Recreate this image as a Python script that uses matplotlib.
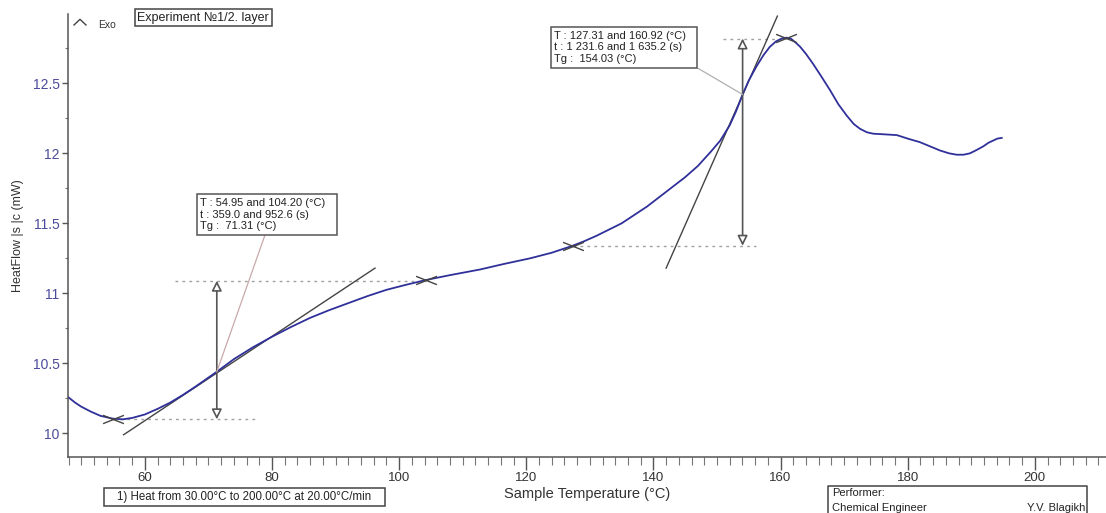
import numpy as np
import matplotlib
matplotlib.use("Agg")
import matplotlib.pyplot as plt
from matplotlib.path import Path
from matplotlib.patches import Rectangle
from matplotlib.lines import Line2D
from matplotlib.ticker import MultipleLocator

plt.rcParams['font.family'] = ['Liberation Sans', 'DejaVu Sans']

# heat flow curve
temp = [47.9, 49, 50, 51.5, 53, 54.95, 56.5, 58, 60, 62, 64, 66, 68, 71.31, 74, 77,
        80, 83, 86, 89, 92, 95, 98, 101, 104.2, 108, 112.7, 116.5, 120.6, 124,
        127.3, 129, 131, 133, 135, 137, 139, 141, 143, 145, 147, 149, 150.5, 152,
        153, 154.03, 155, 156.2, 157.3, 158.3, 159.3, 160.2, 160.92, 161.6, 162.4,
        163.1, 164, 165.1, 166.4, 167.8, 169.1, 170.4, 171.5, 172.5, 173.6, 174.6,
        176.5, 178.3, 180, 181.9, 183.5, 185.1, 186.5, 187.7, 188.8, 189.8, 190.9,
        191.9, 192.7, 193.4, 194.1, 194.8]
heatflow = [10.26, 10.22, 10.19, 10.155, 10.125, 10.105, 10.10, 10.11, 10.135, 10.175,
            10.22, 10.275, 10.335, 10.44, 10.53, 10.615, 10.69, 10.76, 10.825, 10.88,
            10.93, 10.98, 11.025, 11.06, 11.095, 11.13, 11.17, 11.21, 11.25, 11.29,
            11.34, 11.37, 11.41, 11.455, 11.50, 11.56, 11.62, 11.69, 11.76, 11.83,
            11.91, 12.01, 12.09, 12.20, 12.30, 12.42, 12.52, 12.62, 12.70, 12.76,
            12.80, 12.82, 12.826, 12.82, 12.79, 12.76, 12.71, 12.64, 12.55, 12.45,
            12.35, 12.27, 12.21, 12.175, 12.15, 12.14, 12.135, 12.13, 12.105, 12.08,
            12.05, 12.02, 12.00, 11.99, 11.99, 12.00, 12.025, 12.05, 12.075, 12.09,
            12.105, 12.11]

# glass transition analysis (onset / end markers, Tg)
mark_T = [54.95, 104.20, 127.31, 160.92]
mark_v = [10.105, 11.095, 11.34, 12.826]
tg_T = [71.31, 154.03]
tg_v = [10.44, 12.42]
step_lo = [10.10, 11.34]
step_hi = [11.09, 12.82]
tan1_T = [56.65, 96.2]
tan1_v = [9.99, 11.18]
tan2_T = [142.0, 159.5]
tan2_v = [11.18, 12.98]
dot_T = [(55.0, 77.6), (64.8, 104.2), (127.3, 156.2), (151.0, 160.92)]
dot_v = [10.10, 11.09, 11.34, 12.82]

box1_lines = ["T : 54.95 and 104.20 (°C)", "t : 359.0 and 952.6 (s)", "Tg :  71.31 (°C)"]
box2_lines = ["T : 127.31 and 160.92 (°C)", "t : 1 231.6 and 1 635.2 (s)", "Tg :  154.03 (°C)"]

W, H = 1106, 513
def fx(px):
    return px / W
def fy(py):
    return 1 - py / H

fig = plt.figure(figsize=(W / 100, H / 100), dpi=100)
ax = fig.add_axes([fx(68), fy(457), 1 - fx(68), fy(14) - fy(457)])

ax.set_xlim(47.9, 211.2)
ax.set_ylim(9.831, 12.995)

for s in ['top', 'right']:
    ax.spines[s].set_visible(False)
for s in ['left', 'bottom']:
    ax.spines[s].set_color('#555555')
    ax.spines[s].set_linewidth(1.1)

ax.xaxis.set_major_locator(MultipleLocator(20))
ax.xaxis.set_minor_locator(MultipleLocator(2))
ax.yaxis.set_major_locator(MultipleLocator(0.5))
ax.yaxis.set_minor_locator(MultipleLocator(0.25))
ax.yaxis.set_major_formatter(plt.FuncFormatter(lambda v, p: f"{v:g}"))
ax.tick_params(axis='x', which='major', length=9.4, width=1, color='#555555',
               labelsize=9.5, labelcolor='#333333', pad=1.5)
ax.tick_params(axis='x', which='minor', length=5.8, width=0.8, color='#777777')
ax.tick_params(axis='y', which='major', length=4, width=1, color='#555555',
               labelsize=10, labelcolor='#4b4b9b', pad=2)
ax.tick_params(axis='y', which='minor', length=2.5, width=0.8, color='#777777')

ax.set_xlabel('Sample Temperature (°C)', fontsize=10.5, color='#333333', labelpad=2)
ax.set_ylabel('HeatFlow |s |c (mW)', fontsize=9, color='#333333', labelpad=6)

# dotted step levels
for (t0, t1), v in zip(dot_T, dot_v):
    ax.plot([t0, t1], [v, v], color='#a0a0a0', lw=1, ls=(0, (2, 3)))

# tangents
ax.plot(tan1_T, tan1_v, color='#444444', lw=1)
ax.plot(tan2_T, tan2_v, color='#444444', lw=1)

# curve
ax.plot(temp, heatflow, color='#30309a', lw=1.3)

# step height arrows
for t, lo, hi in zip(tg_T, step_lo, step_hi):
    ax.annotate('', xy=(t, hi), xytext=(t, lo),
                arrowprops=dict(arrowstyle='<|-|>,head_length=0.6,head_width=0.3',
                                fc='white', ec='#555555', lw=1.2,
                                mutation_scale=10, shrinkA=0, shrinkB=0))

# crossed markers
cross = Path([(-1, -0.4), (1, 0.4), (-1, 0.4), (1, -0.4)],
             [Path.MOVETO, Path.LINETO, Path.MOVETO, Path.LINETO])
ax.plot(mark_T, mark_v, ls='none', marker=cross, markersize=15, mew=1,
        mec='#444444', mfc='none')

# result boxes with leader lines
def result_box(x0, y0, x1, y1, lines, lead_from, tg, lead_color):
    fig.add_artist(Rectangle((fx(x0), fy(y1)), fx(x1) - fx(x0), fy(y0) - fy(y1),
                             transform=fig.transFigure, fill=True, fc='white',
                             ec='#555555', lw=1.1, zorder=5))
    fig.text(fx(x0 + 3), fy((y0 + y1) / 2), "\n".join(lines), fontsize=8,
             color='#222222', va='center', ha='left', linespacing=1.15, zorder=6)
    ax.annotate('', xy=tg, xycoords='data',
                xytext=(fx(lead_from[0]), fy(lead_from[1])), textcoords='figure fraction',
                arrowprops=dict(arrowstyle='-', color=lead_color, lw=0.9,
                                shrinkA=0, shrinkB=0))

result_box(196.7, 194, 336.7, 235, box1_lines, (265, 235), (tg_T[0], tg_v[0]), '#c9a9a9')
result_box(551, 26.7, 696.7, 68.3, box2_lines, (698, 68.3), (tg_T[1], tg_v[1]), '#b0b0b0')

# header: Exo and experiment name
fig.add_artist(Line2D([fx(74), fx(80), fx(86)], [fy(25), fy(19.3), fy(25)],
                      transform=fig.transFigure, color='#444444', lw=1))
fig.text(fx(98), fy(25), 'Exo', fontsize=7.5, color='#333333', va='center', ha='left')
fig.add_artist(Rectangle((fx(135), fy(26)), fx(271.7) - fx(135), fy(9.3) - fy(26),
                         transform=fig.transFigure, fill=False, ec='#444444', lw=1.1))
fig.text(fx(203.3), fy(17.6), 'Experiment №1/2. layer', fontsize=9, color='#222222',
         va='center', ha='center')

# method box
fig.add_artist(Rectangle((fx(104), fy(505.7)), fx(385) - fx(104), fy(488.3) - fy(505.7),
                         transform=fig.transFigure, fill=False, ec='#444444', lw=1.1))
fig.text(fx(244.5), fy(497), '1) Heat from 30.00°C to 200.00°C at 20.00°C/min',
         fontsize=8.3, color='#222222', va='center', ha='center')

# performer box, cut by the bottom edge
fig.add_artist(Line2D([fx(828.3), fx(828.3), fx(1086.7), fx(1086.7)],
                      [0, fy(486), fy(486), 0],
                      transform=fig.transFigure, color='#444444', lw=1.1))
fig.text(fx(831.7), fy(493.3), 'Performer:', fontsize=8, color='#222222', va='center')
fig.text(fx(831.7), fy(508.3), 'Chemical Engineer', fontsize=8, color='#222222', va='center')
fig.text(fx(1085), fy(508.3), 'Y.V. Blagikh', fontsize=8, color='#222222',
         va='center', ha='right')

fig.savefig('out.png', dpi=100)
